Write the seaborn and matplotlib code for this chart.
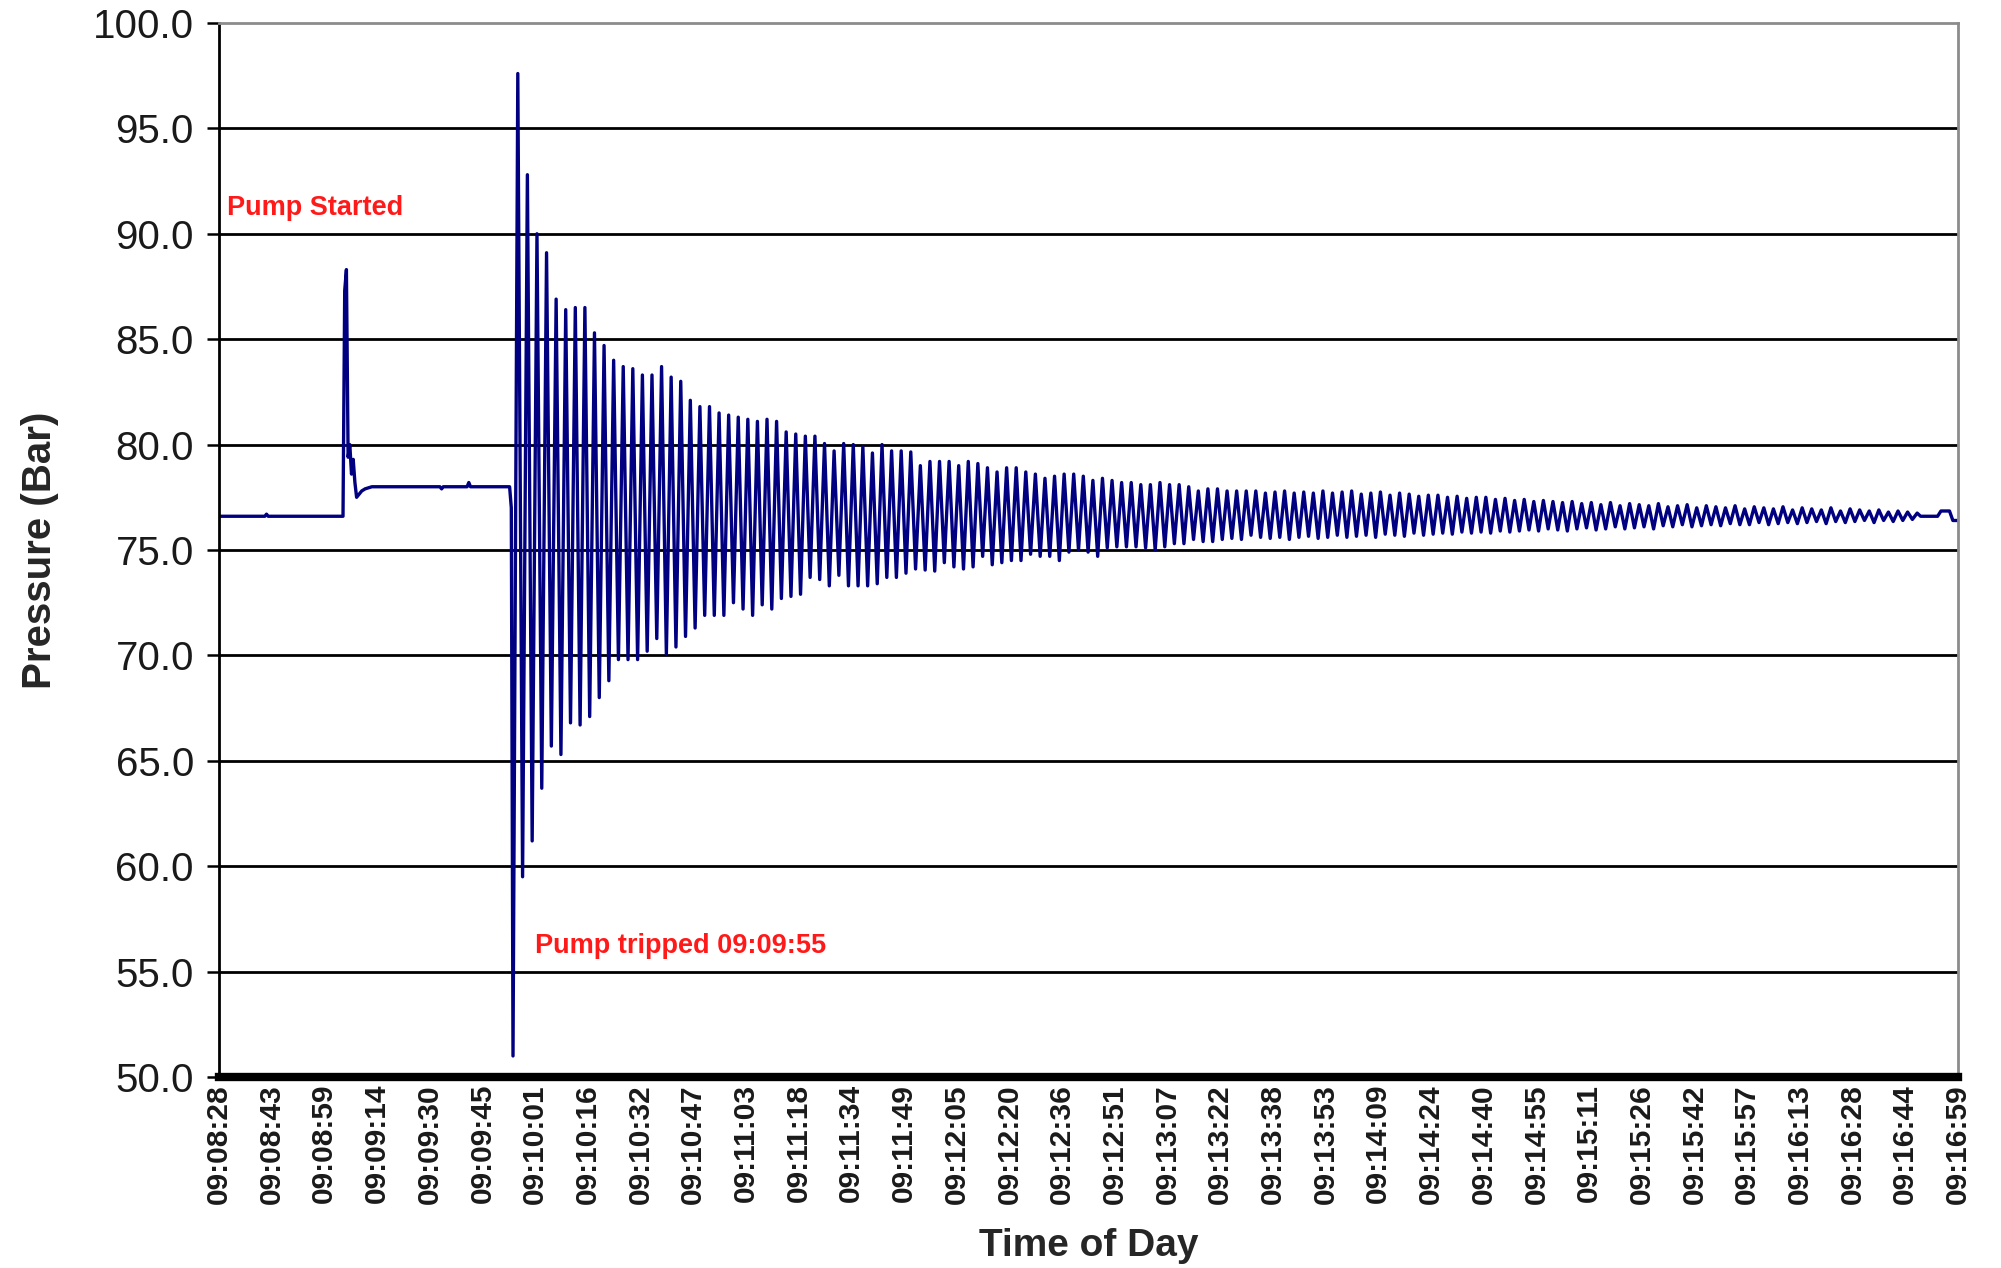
import numpy as np
import pandas as pd
import matplotlib
matplotlib.use("Agg")
import matplotlib.pyplot as plt
import seaborn as sns

# logger samples every 0.5 s from 09:08:28, Excel shows a label every 31 samples
tick_labels = [
    "09:08:28", "09:08:43", "09:08:59", "09:09:14", "09:09:30", "09:09:45",
    "09:10:01", "09:10:16", "09:10:32", "09:10:47", "09:11:03", "09:11:18",
    "09:11:34", "09:11:49", "09:12:05", "09:12:20", "09:12:36", "09:12:51",
    "09:13:07", "09:13:22", "09:13:38", "09:13:53", "09:14:09", "09:14:24",
    "09:14:40", "09:14:55", "09:15:11", "09:15:26", "09:15:42", "09:15:57",
    "09:16:13", "09:16:28", "09:16:44", "09:16:59",
]
label_step = 31

# before the trip: idle, pump start spike, running
pre_idx = [0, 27, 28, 29, 73, 74, 75, 76, 77, 78, 79, 80, 81, 82, 84, 86, 90,
           130, 131, 132, 146, 147, 148, 171, 172]
pre_val = [76.6, 76.6, 76.7, 76.6, 76.6, 87.3, 88.3, 79.4, 80.0, 78.6, 79.3,
           78.2, 77.5, 77.6, 77.8, 77.9, 78.0, 78.0, 77.9, 78.0, 78.0, 78.2,
           78.0, 78.0, 77.0]

# pump trip at sample 173 -> surge, one peak and one trough per cycle
peaks = [
    97.6, 92.8, 90.0, 89.1, 86.9, 86.4, 86.5, 86.5, 85.3, 84.7,
    84.0, 83.7, 83.6, 83.3, 83.3, 83.7, 83.2, 83.0, 82.1, 81.8,
    81.8, 81.5, 81.4, 81.3, 81.2, 81.1, 81.2, 81.1, 80.6, 80.5,
    80.4, 80.4, 80.05, 79.7, 80.05, 80.0, 79.9, 79.6, 80.0, 79.7,
    79.7, 79.65, 79.0, 79.2, 79.2, 79.2, 79.0, 79.2, 79.1, 78.9,
    78.7, 78.9, 78.9, 78.7, 78.6, 78.4, 78.5, 78.6, 78.6, 78.5,
    78.3, 78.4, 78.3, 78.2, 78.2, 78.1, 78.1, 78.2, 78.1, 78.1,
    78.0, 77.8, 77.9, 77.9, 77.8, 77.8, 77.8, 77.8, 77.7, 77.75,
    77.8, 77.7, 77.75, 77.7,
    77.8, 77.7, 77.75, 77.8, 77.65, 77.7, 77.75, 77.6, 77.7, 77.65,
    77.55, 77.6, 77.6, 77.5, 77.55, 77.45, 77.5, 77.5, 77.4, 77.45,
    77.35, 77.4, 77.3, 77.35, 77.3, 77.25, 77.3, 77.2, 77.25, 77.15,
    77.25, 77.1, 77.2, 77.15, 77.1, 77.2, 77.05, 77.1, 77.15, 77.0,
    77.1, 77.05, 77.0, 77.1, 76.95, 77.05, 77.0, 76.95, 77.05, 76.9,
    77.0, 76.95, 76.9, 77.0, 76.85, 76.95, 76.9, 76.85, 76.9, 76.8,
    76.85, 76.8, 76.75,
]
troughs = [
    51.0, 59.5, 61.2, 63.7, 65.7, 65.3, 66.8, 66.7, 67.1, 68.0,
    68.8, 69.8, 69.8, 69.8, 70.2, 70.8, 70.05, 70.4, 70.9, 71.3,
    71.9, 71.9, 71.9, 72.5, 72.2, 71.9, 72.4, 72.2, 72.7, 72.8,
    72.9, 73.7, 73.6, 73.3, 73.8, 73.3, 73.3, 73.3, 73.4, 73.7,
    73.7, 73.9, 74.1, 74.05, 74.0, 74.4, 74.2, 74.1, 74.2, 74.7,
    74.3, 74.4, 74.5, 74.5, 74.8, 74.7, 74.7, 74.5, 74.9, 75.0,
    74.9, 74.7, 75.1, 75.15, 75.15, 75.15, 75.1, 75.0, 75.15, 75.3,
    75.3, 75.5, 75.4, 75.4, 75.5, 75.55, 75.5, 75.7, 75.6, 75.55,
    75.6, 75.5, 75.6, 75.65, 75.55, 75.6, 75.7, 75.6, 75.65, 75.7,
    75.6, 75.75, 75.7, 75.65, 75.8, 75.7, 75.75, 75.8, 75.75, 75.85,
    75.8, 75.85, 75.8, 75.9, 75.85, 75.9, 75.95, 75.9, 76.0, 75.95,
    75.9, 76.0, 76.05, 75.95, 76.0, 76.1, 76.0, 76.05, 76.1, 76.0,
    76.15, 76.1, 76.2, 76.1, 76.15, 76.2, 76.15, 76.25, 76.2, 76.2,
    76.3, 76.2, 76.25, 76.3, 76.25, 76.3, 76.35, 76.25, 76.35, 76.3,
    76.35, 76.4, 76.3, 76.4, 76.35, 76.4, 76.45,
]
trip_idx, settle_idx = 173, 999

# tail after the surge has died out
post_idx = [1001, 1011, 1013, 1018, 1020, 1023]
post_val = [76.6, 76.6, 76.85, 76.85, 76.4, 76.4]

assert len(peaks) == len(troughs)
osc = np.column_stack([troughs, peaks]).ravel()
osc_idx = np.linspace(trip_idx, settle_idx, len(osc))

df = pd.DataFrame({
    "sample": np.concatenate([pre_idx, osc_idx, post_idx]),
    "pressure": np.concatenate([pre_val, osc, post_val]),
})

sns.set_style("white")
plt.rcParams["font.family"] = ["Liberation Sans", "DejaVu Sans"]

fig = plt.figure(figsize=(20.01, 12.68), dpi=100)
ax = fig.add_axes([0.1094, 0.1506, 0.8691, 0.8313])

sns.lineplot(data=df, x="sample", y="pressure", color="#000080",
             linewidth=2.4, estimator=None, sort=False, ax=ax)

ax.set_xlim(0, (len(tick_labels) - 1) * label_step)
ax.set_ylim(50, 100)

yt = np.arange(50, 100.1, 5)
ax.set_yticks(yt)
ax.set_yticklabels([f"{v:.1f}" for v in yt], fontsize=29, color="#1a1a1a")
ax.tick_params(axis="y", left=True, length=9, width=1.8, pad=9, color="black")

ax.set_xticks(np.arange(len(tick_labels)) * label_step)
ax.set_xticklabels(tick_labels, rotation=90, fontsize=21.5, fontweight="bold",
                   color="#1a1a1a")
ax.tick_params(axis="x", bottom=False, length=0, pad=5)

# black horizontal gridlines, the 100 line is the grey frame
for v in yt[1:-1]:
    ax.axhline(v, color="black", linewidth=2.0, zorder=0)

ax.spines["left"].set_color("black")
ax.spines["left"].set_linewidth(2.0)
ax.spines["bottom"].set_color("black")
ax.spines["bottom"].set_linewidth(6.0)
for s in ("top", "right"):
    ax.spines[s].set_color("#8c8c8c")
    ax.spines[s].set_linewidth(2.0)

ax.set_ylabel("Pressure (Bar)", fontsize=29, fontweight="bold")
ax.yaxis.set_label_coords(-0.092, 0.5)
ax.set_xlabel("Time of Day", fontsize=28, fontweight="bold")
ax.xaxis.set_label_coords(0.5, -0.143)

ax.text(5, 91.2, "Pump Started", color="#ff1a1a", fontsize=19.5,
        fontweight="bold", va="center", ha="left")
ax.text(186, 56.2, "Pump tripped 09:09:55", color="#ff1a1a", fontsize=19.5,
        fontweight="bold", va="center", ha="left")

fig.savefig("out.png", dpi=100)
